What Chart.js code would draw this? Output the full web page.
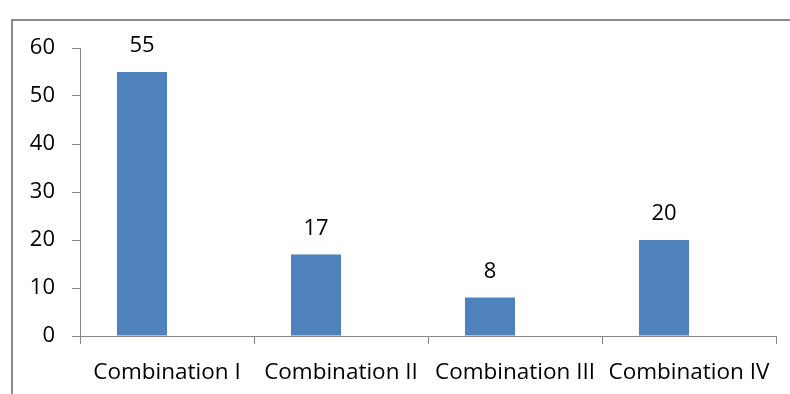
<!DOCTYPE html>
<html>
<head>
<meta charset="utf-8">
<script src="https://cdn.jsdelivr.net/npm/chart.js@4/dist/chart.umd.min.js"></script>
<style>
  html, body { margin: 0; padding: 0; background: #fff; }
  #wrap { width: 790px; height: 394px; }
</style>
</head>
<body>
<div id="wrap"><canvas id="chart"></canvas></div>
<script>
// dane z obrazka
const categories = ["Combination I", "Combination II", "Combination III", "Combination IV"];
const values = [55, 17, 8, 20];
const emptySeries = [null, null, null, null]; // druga seria pusta -> przesuniecie slupkow w lewo
const yTicks = [0, 10, 20, 30, 40, 50, 60];

const FONT = "'Open Sans', sans-serif";

// ramka wokol wykresu
const framePlugin = {
  id: "frame",
  beforeDraw(chart) {
    const ctx = chart.ctx;
    ctx.save();
    ctx.strokeStyle = "#8c8c8c";
    ctx.lineWidth = 2;
    ctx.strokeRect(12, 20, 900, 600);
    ctx.restore();
  },
};

// wartosci nad slupkami
const labelPlugin = {
  id: "valueLabels",
  afterDatasetsDraw(chart) {
    const ctx = chart.ctx;
    const meta = chart.getDatasetMeta(0);
    ctx.save();
    ctx.fillStyle = "#000";
    ctx.font = "22px " + FONT;
    ctx.textAlign = "center";
    ctx.textBaseline = "middle";
    meta.data.forEach((bar, i) => {
      ctx.fillText(String(values[i]), bar.x, bar.y - 26);
    });
    ctx.restore();
  },
};

new Chart(document.getElementById("chart"), {
  type: "bar",
  data: {
    labels: categories,
    datasets: [
      { data: values, backgroundColor: "#4f81bd", borderWidth: 0 },
      { data: emptySeries, backgroundColor: "#c0504d", borderWidth: 0 },
    ],
  },
  options: {
    responsive: true,
    maintainAspectRatio: false,
    animation: false,
    layout: { padding: { top: 48, right: 14, left: 0, bottom: 0 } },
    plugins: {
      legend: { display: false },
      tooltip: { enabled: false },
    },
    datasets: {
      bar: { categoryPercentage: 0.575, barPercentage: 1 },
    },
    scales: {
      x: {
        offset: true,
        grid: {
          offset: true,
          drawOnChartArea: false,
          tickLength: 8,
          color: "#868686",
        },
        border: { color: "#868686" },
        ticks: {
          color: "#000",
          font: { family: FONT, size: 22.5 },
          padding: 15,
          maxRotation: 0,
        },
        afterFit: (scale) => { scale.height = 58; },
      },
      y: {
        min: 0,
        max: 60,
        afterBuildTicks: (scale) => { scale.ticks = yTicks.map((v) => ({ value: v })); },
        grid: {
          drawOnChartArea: false,
          tickLength: 8,
          color: "#868686",
        },
        border: { color: "#868686" },
        ticks: {
          color: "#000",
          font: { family: FONT, size: 22 },
          padding: 17,
        },
        afterFit: (scale) => { scale.width = 80; },
      },
    },
  },
  plugins: [framePlugin, labelPlugin],
});
</script>
</body>
</html>
